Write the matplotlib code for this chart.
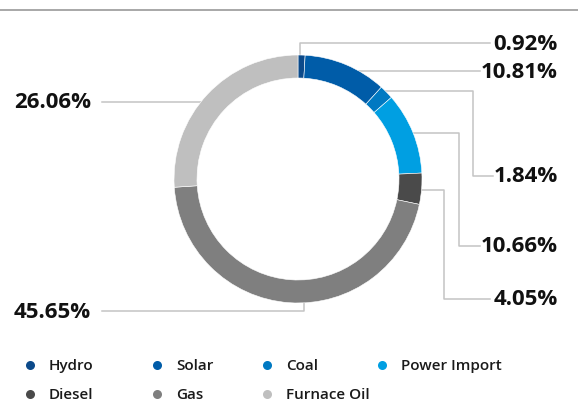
import numpy as np
import matplotlib
matplotlib.use("Agg")
import matplotlib.pyplot as plt

# generation mix
sources = ["Hydro", "Solar", "Coal", "Power Import", "Diesel", "Gas", "Furnace Oil"]
shares = [0.92, 10.81, 1.84, 10.66, 4.05, 45.65, 26.06]
colors = ["#0c4a8a", "#005ca8", "#0079c2", "#009fe2", "#4a4a4a", "#7f7f7f", "#bfbfbf"]

W, H = 578, 410
cx, cy, R, ring = 298, 180, 124, 23
LINE = "#c4c4c4"
plt.rcParams["font.family"] = ["Open Sans", "DejaVu Sans"]

fig = plt.figure(figsize=(W / 100, H / 100), dpi=100)
ax = fig.add_axes([0, 0, 1, 1])


def Y(y):
    # pixel row -> data y
    return H - y


def ring_x(y, side):
    dy = y - cy
    return cx + side * np.sqrt(R ** 2 - dy ** 2)


def ring_y(x, side):
    dx = x - cx
    return cy + side * np.sqrt(R ** 2 - dx ** 2)


# rule across the top
ax.plot([0, W], [Y(10.5), Y(10.5)], color="#9a9a9a", lw=1.2, zorder=1)

# leader lines: (label index, list of pixel points)
leaders = {
    0: [(300, ring_y(300, -1)), (300, 44), (490, 44)],
    1: [(ring_x(72, 1), 72), (480, 72)],
    2: [(ring_x(92, 1), 92), (473, 92), (473, 177), (493, 177)],
    3: [(ring_x(134, 1), 134), (459, 134), (459, 247), (480, 247)],
    4: [(ring_x(191, 1), 191), (444, 191), (444, 300), (490, 300)],
    5: [(304, ring_y(304, 1)), (304, 312), (102, 312)],
    6: [(ring_x(103, -1), 103), (102, 103)],
}
label_pos = {0: (557, 44), 1: (558, 72), 2: (558, 177), 3: (558, 247),
             4: (558, 300), 5: (91, 313), 6: (91, 103)}

for i, pts in leaders.items():
    xs = [p[0] for p in pts]
    ys = [Y(p[1]) for p in pts]
    ax.plot(xs, ys, color=LINE, lw=1.1, zorder=1)
    tx, ty = label_pos[i]
    ax.text(tx, Y(ty), f"{shares[i]:.2f}%", ha="right", va="center",
            fontsize=16, fontweight="bold", color="#111111")

ax.pie(shares, colors=colors, startangle=90, counterclock=False,
       center=(cx, Y(cy)), radius=R, frame=True,
       wedgeprops=dict(width=ring, edgecolor="white", linewidth=0.4))

# legend
leg_x = [30, 157, 267, 382]
leg_y = [366, 395]
for i, name in enumerate(sources):
    r, c = divmod(i, 4)
    mx, my = leg_x[c], leg_y[r]
    ax.plot(mx, Y(my), "o", ms=6.5, color=colors[i], mec="none")
    ax.text(mx + 19, Y(my), name, ha="left", va="center", fontsize=11,
            fontweight="semibold", color="#1a1a1a")

ax.set_xlim(0, W)
ax.set_ylim(0, H)
ax.set_aspect("equal")
ax.axis("off")
fig.savefig("out.png", dpi=100)
